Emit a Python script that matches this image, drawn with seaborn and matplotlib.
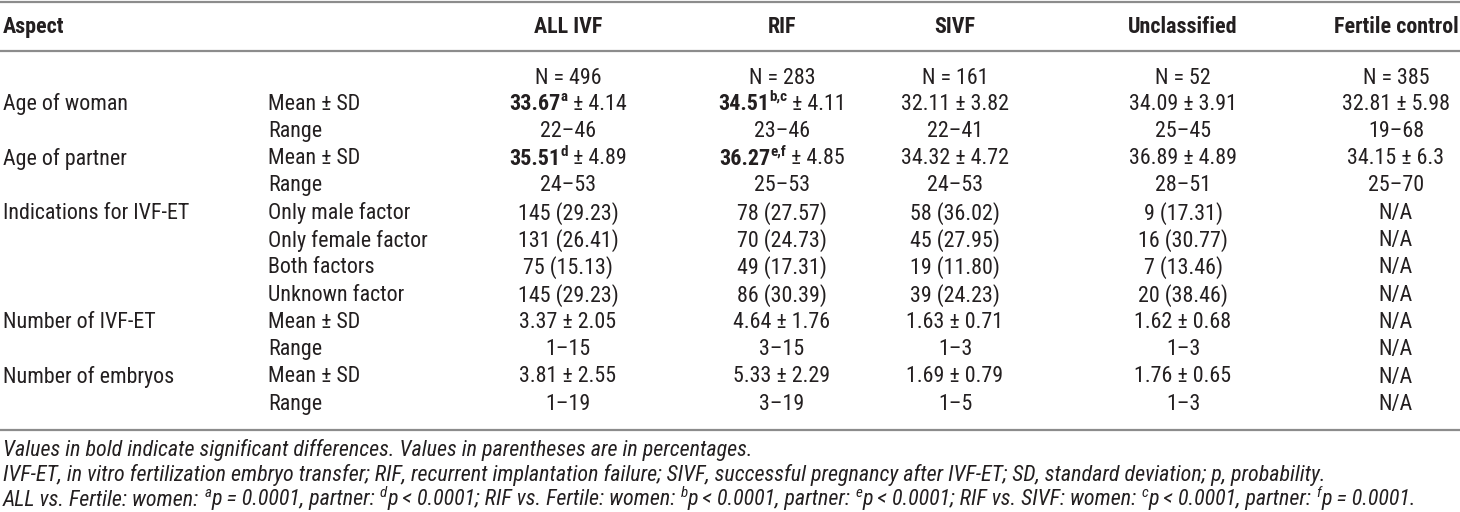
import matplotlib
matplotlib.use("Agg")
import matplotlib.pyplot as plt
import seaborn as sns

# ---------------- data ----------------
header = ["Aspect", "", "ALL IVF", "RIF", "SIVF", "Unclassified", "Fertile control"]
group_n = ["N = 496", "N = 283", "N = 161", "N = 52", "N = 385"]

aspects = ["Age of woman", "", "Age of partner", "", "Indications for IVF-ET", "", "", "",
           "Number of IVF-ET", "", "Number of embryos", ""]
subrows = ["Mean ± SD", "Range", "Mean ± SD", "Range", "Only male factor", "Only female factor",
           "Both factors", "Unknown factor", "Mean ± SD", "Range", "Mean ± SD", "Range"]

all_ivf = ["33.67|a| ± 4.14", "22–46", "35.51|d| ± 4.89", "24–53", "145 (29.23)", "131 (26.41)",
           "75 (15.13)", "145 (29.23)", "3.37 ± 2.05", "1–15", "3.81 ± 2.55", "1–19"]
rif = ["34.51|b,c| ± 4.11", "23–46", "36.27|e,f| ± 4.85", "25–53", "78 (27.57)", "70 (24.73)",
       "49 (17.31)", "86 (30.39)", "4.64 ± 1.76", "3–15", "5.33 ± 2.29", "3–19"]
sivf = ["32.11 ± 3.82", "22–41", "34.32 ± 4.72", "24–53", "58 (36.02)", "45 (27.95)",
        "19 (11.80)", "39 (24.23)", "1.63 ± 0.71", "1–3", "1.69 ± 0.79", "1–5"]
unclassified = ["34.09 ± 3.91", "25–45", "36.89 ± 4.89", "28–51", "9 (17.31)", "16 (30.77)",
                "7 (13.46)", "20 (38.46)", "1.62 ± 0.68", "1–3", "1.76 ± 0.65", "1–3"]
fertile = ["32.81 ± 5.98", "19–68", "34.15 ± 6.3", "25–70", "N/A", "N/A",
           "N/A", "N/A", "N/A", "N/A", "N/A", "N/A"]

footnote1 = "Values in bold indicate significant differences. Values in parentheses are in percentages."
footnote2 = ("IVF-ET, in vitro fertilization embryo transfer; RIF, recurrent implantation failure; "
             "SIVF, successful pregnancy after IVF-ET; SD, standard deviation; p, probability.")
footnote3 = [("ALL vs. Fertile: women: ", ""), ("a", "sup"), ("p = 0.0001, partner: ", ""), ("d", "sup"),
             ("p < 0.0001; RIF vs. Fertile: women: ", ""), ("b", "sup"), ("p < 0.0001, partner: ", ""),
             ("e", "sup"), ("p < 0.0001; RIF vs. SIVF: women: ", ""), ("c", "sup"),
             ("p < 0.0001, partner: ", ""), ("f", "sup"), ("p = 0.0001.", "")]

# ---------------- style ----------------
sns.set_theme(style="white")
FAM = ["Liberation Sans Narrow", "Roboto Condensed", "Liberation Sans", "DejaVu Sans"]
plt.rcParams["font.family"] = FAM
TXT = "#231f20"
FS = 15.8
SUP = 10.8

fig = plt.figure(figsize=(14.6, 5.12), dpi=100)
ax = fig.add_axes([0, 0, 1, 1])
ax.set_xlim(0, 1460)
ax.set_ylim(512, 0)
ax.axis("off")
fig.canvas.draw()
renderer = fig.canvas.get_renderer()


def width_px(t):
    return t.get_window_extent(renderer=renderer).width


def rich(x, y, pieces, ha="left", style="normal"):
    """pieces: list of (text, kind) where kind in '', 'bold', 'sup', 'boldsup'."""
    objs = []
    for txt, kind in pieces:
        w = "bold" if "bold" in kind else "normal"
        size = SUP if "sup" in kind else FS
        dy = -7 if "sup" in kind else 0
        t = ax.text(0, y + dy, txt, fontsize=size, fontweight=w, fontstyle=style,
                    color=TXT, va="center", ha="left")
        objs.append(t)
    widths = [width_px(t) for t in objs]
    total = sum(widths)
    x0 = x - total / 2 if ha == "center" else x
    for t, w in zip(objs, widths):
        t.set_x(x0)
        x0 += w


def parse(cell):
    if "|" in cell:
        a, s, b = cell.split("|")
        return [(a, "bold"), (s, "boldsup"), (b, "")]
    return [(cell, "")]


# rules
RULE = "#8c8c8c"
ax.axhline(1.5, color=RULE, lw=1.6)
ax.axhline(51, color=RULE, lw=1.6)
ax.axhline(430, color=RULE, lw=1.6)

col_x = [568, 782, 955, 1183, 1396]
sub_x = 268
y_head = 27
y_n = 78
row_y0 = 104
row_dy = 27.3

# header
ax.text(3, y_head, header[0], fontsize=FS, fontweight="bold", color=TXT, va="center", ha="left")
for x, h in zip(col_x, header[2:]):
    ax.text(x, y_head, h, fontsize=FS, fontweight="bold", color=TXT, va="center", ha="center")

# N row
for x, n in zip(col_x, group_n):
    ax.text(x, y_n, n, fontsize=FS, color=TXT, va="center", ha="center")

cols = [all_ivf, rif, sivf, unclassified, fertile]
for i in range(len(subrows)):
    y = row_y0 + i * row_dy
    if aspects[i]:
        ax.text(3, y, aspects[i], fontsize=FS, color=TXT, va="center", ha="left")
    ax.text(sub_x, y, subrows[i], fontsize=FS, color=TXT, va="center", ha="left")
    for x, col in zip(col_x, cols):
        rich(x, y, parse(col[i]), ha="center")

# footnotes
ax.text(3, 450, footnote1, fontsize=FS, fontstyle="italic", color=TXT, va="center", ha="left")
ax.text(3, 475, footnote2, fontsize=FS, fontstyle="italic", color=TXT, va="center", ha="left")
rich(3, 500, footnote3, ha="left", style="italic")

fig.savefig("out.png", dpi=100)
